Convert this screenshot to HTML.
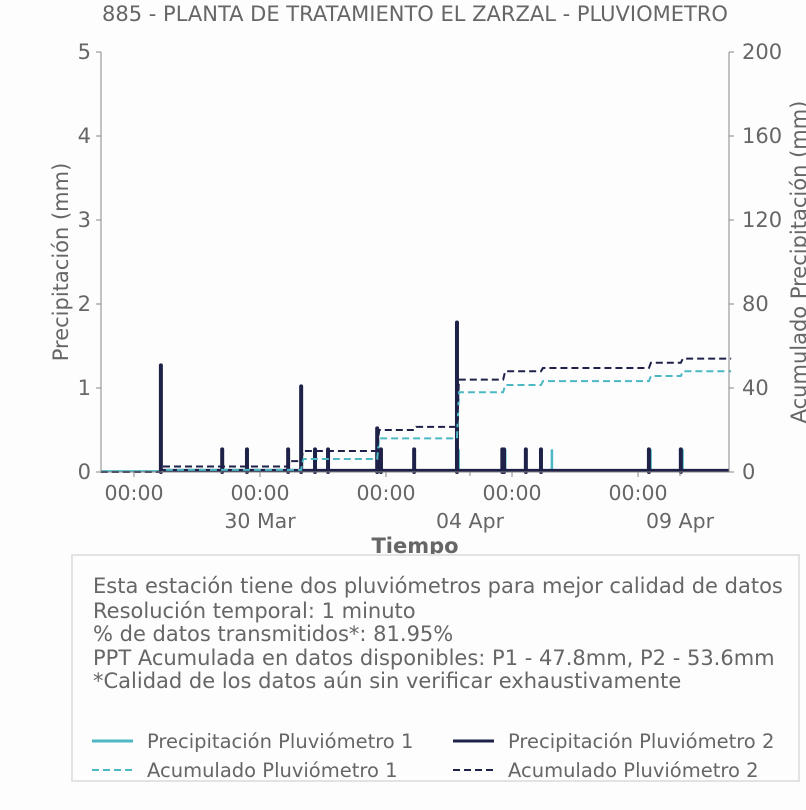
<!DOCTYPE html>
<html><head><meta charset="utf-8">
<style>
body{margin:0;background:#fdfdfd;width:806px;height:806px;overflow:hidden;font-family:"DejaVu Sans","Liberation Sans",sans-serif;}
svg text{font-family:"DejaVu Sans","Liberation Sans",sans-serif;fill:#666;}
</style></head>
<body>
<svg id="c" width="806" height="806">
<text x="415" y="21" font-size="21" text-anchor="middle">885 - PLANTA DE TRATAMIENTO EL ZARZAL - PLUVIOMETRO</text>
<g id="plot"></g>
<g id="axes"></g>
<rect x="72" y="555" width="727" height="226" fill="#fdfdfd" stroke="#e3e3e3" stroke-width="2"/>
<g font-size="21">
<text x="93" y="593">Esta estación tiene dos pluviómetros para mejor calidad de datos</text>
<text x="93" y="618">Resolución temporal: 1 minuto</text>
<text x="93" y="641">% de datos transmitidos*: 81.95%</text>
<text x="93" y="665">PPT Acumulada en datos disponibles: P1 - 47.8mm, P2 - 53.6mm</text>
<text x="93" y="688">*Calidad de los datos aún sin verificar exhaustivamente</text>
</g>
<g font-size="19.5">
<g><line x1="92" y1="741" x2="133" y2="741" stroke="#4bb8c4" stroke-width="3"/><text x="147" y="748">Precipitación Pluviómetro 1</text></g>
<g><line x1="453" y1="741" x2="494" y2="741" stroke="#1e2148" stroke-width="3"/><text x="508" y="748">Precipitación Pluviómetro 2</text></g>
<g><line x1="92" y1="770" x2="133" y2="770" stroke="#4bb8c4" stroke-width="2" stroke-dasharray="7,4"/><text x="147" y="777">Acumulado Pluviómetro 1</text></g>
<g><line x1="453" y1="770" x2="494" y2="770" stroke="#1e2148" stroke-width="2" stroke-dasharray="7,4"/><text x="508" y="777">Acumulado Pluviómetro 2</text></g>
</g>
</svg>
<script>
// days since 27 Mar 00:00
const spikeDays2=[0.64,2.1,2.69,3.67,3.98,4.31,4.62,5.79,5.88,6.67,7.69,8.77,8.81,9.33,9.69,12.26,13.02];
const spikeVals2=[1.27,0.27,0.27,0.27,1.02,0.27,0.27,0.52,0.27,0.27,1.78,0.27,0.27,0.27,0.27,0.27,0.27];
const spikeDays1=[7.73,8.84,9.95,12.3,13.06];
const spikeVals1=[0.27,0.27,0.27,0.27,0.27];
const accDays=[-0.79,0.64,3.67,3.98,5.79,6.67,7.69,8.79,9.69,12.26,13.02,14.17];
const acc1=[0,1,1,6.2,16,16,38,41.4,43.3,45.7,48,48];
const acc2=[0,2.6,5.2,10,20,21.5,44,48,49.5,52,54,54];
const yTicks=[0,1,2,3,4,5];
const y2Ticks=[0,40,80,120,160,200];
const xTickDays=[0,3,6,9,12];
const dateDays=[3,8,13];
const dateLabels=["30 Mar","04 Apr","09 Apr"];

const X0=101,X1=729,Y0=472,Y1=52;
const sx=d=>134+d*42;
const sy=v=>Y0-v*(Y0-Y1)/5;
const sy2=v=>Y0-v*(Y0-Y1)/200;
const NS="http://www.w3.org/2000/svg";
function mk(p,t,a){const e=document.createElementNS(NS,t);for(const k in a)e.setAttribute(k,a[k]);p.appendChild(e);return e;}
const plot=document.getElementById('plot'),axes=document.getElementById('axes');

const base1=mk(plot,'line',{x1:X0,y1:sy(0.01),x2:X1,y2:sy(0.01),stroke:'#4bb8c4','stroke-width':2});


spikeDays1.forEach((d,i)=>{const l=mk(plot,'line',{x1:sx(d),y1:sy(0),x2:sx(d),y2:sy(spikeVals1[i]),stroke:'#4bb8c4','stroke-width':2.5});

});
const base2=mk(plot,'line',{x1:sx(0.64),y1:sy(0.02),x2:X1,y2:sy(0.02),stroke:'#1e2148','stroke-width':3});


spikeDays2.forEach((d,i)=>{const l=mk(plot,'line',{x1:sx(d),y1:sy(0),x2:sx(d),y2:sy(spikeVals2[i]),stroke:'#1e2148','stroke-width':4,'stroke-linecap':'round'});

});
function stepPath(arr,f){let p='';accDays.forEach((d,i)=>{const x=sx(d),y=f(arr[i]);if(i==0)p='M'+x+','+y;else p+=' L'+x+','+f(arr[i-1])+' L'+(x+2)+','+y;});return p;}
const a1=mk(plot,'path',{d:stepPath(acc1,sy2),fill:'none',stroke:'#4bb8c4','stroke-width':2,'stroke-dasharray':'7,4'});


const a2=mk(plot,'path',{d:stepPath(acc2,sy2),fill:'none',stroke:'#1e2148','stroke-width':2,'stroke-dasharray':'7,4'});



mk(axes,'line',{x1:X0,y1:Y1,x2:X0,y2:Y0,stroke:'#888','stroke-width':1});
mk(axes,'line',{x1:X1,y1:Y1,x2:X1,y2:Y0,stroke:'#888','stroke-width':1});
mk(axes,'line',{x1:X0,y1:Y0,x2:X1,y2:Y0,stroke:'#888','stroke-width':1});
yTicks.forEach(v=>{mk(axes,'line',{x1:X0-5,y1:sy(v),x2:X0,y2:sy(v),stroke:'#888'});
const t=mk(axes,'text',{x:X0-10,y:sy(v)+7,'font-size':21,'text-anchor':'end'});t.textContent=v;

});
y2Ticks.forEach(v=>{mk(axes,'line',{x1:X1,y1:sy2(v),x2:X1+5,y2:sy2(v),stroke:'#888'});
const t=mk(axes,'text',{x:X1+13,y:sy2(v)+7,'font-size':21});t.textContent=v;

});
xTickDays.forEach(d=>{mk(axes,'line',{x1:sx(d),y1:Y0,x2:sx(d),y2:Y0+5,stroke:'#888'});
const t=mk(axes,'text',{x:sx(d),y:Y0+28,'font-size':20.5,'text-anchor':'middle'});t.textContent='00:00';

});
dateDays.forEach((d,i)=>{mk(axes,'line',{x1:sx(d),y1:Y0,x2:sx(d),y2:Y0+4,stroke:'#888'});
const t=mk(axes,'text',{x:sx(d),y:Y0+56,'font-size':20.5,'text-anchor':'middle'});t.textContent=dateLabels[i];

});
const xt=mk(axes,'text',{x:415,y:553,'font-size':21,'font-weight':'bold','text-anchor':'middle'});xt.textContent='Tiempo';


const yt=mk(axes,'text',{x:0,y:0,'font-size':21,'text-anchor':'middle',transform:'translate(68,262) rotate(-90)'});yt.textContent='Precipitación (mm)';


const yt2=mk(axes,'text',{x:0,y:0,'font-size':21,'text-anchor':'middle',transform:'translate(806,262) rotate(-90)'});yt2.textContent='Acumulado Precipitación (mm)';


</script>
</body></html>
